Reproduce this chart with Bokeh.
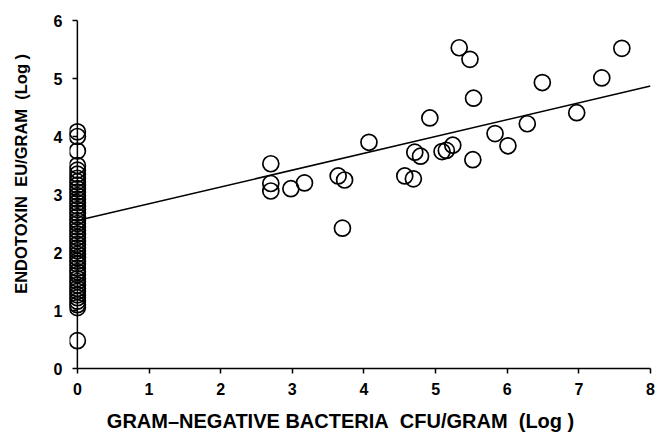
from bokeh.plotting import figure
from bokeh.models import Range1d, FixedTicker, Span
from bokeh.embed import file_html
from bokeh.resources import INLINE

# ---- data ----
zero_x_y = [0.48, 1.05, 1.1, 1.16, 1.22, 1.27, 1.33, 1.38, 1.44, 1.5, 1.55, 1.62,
            1.67, 1.73, 1.8, 1.85, 1.91, 1.97, 2.03, 2.08, 2.14, 2.2, 2.26, 2.32,
            2.38, 2.44, 2.5, 2.55, 2.62, 2.68, 2.74, 2.8, 2.86, 2.92, 2.98, 3.04,
            3.1, 3.16, 3.22, 3.28, 3.35, 3.42, 3.5, 3.75, 4.0, 4.08]

bact_x = [5.33, 5.48, 7.60, 6.49, 7.32, 5.53, 4.92, 6.97, 6.28, 4.07, 5.83, 6.01,
          5.24, 5.09, 5.15, 4.71, 4.79, 5.52, 2.70, 2.70, 2.70, 2.98, 3.17, 3.64,
          3.73, 4.57, 4.69, 3.70]
endo_y = [5.53, 5.33, 5.52, 4.93, 5.01, 4.66, 4.32, 4.41, 4.22, 3.90, 4.05, 3.84,
          3.85, 3.74, 3.76, 3.73, 3.66, 3.60, 3.53, 3.19, 3.06, 3.10, 3.20, 3.32,
          3.25, 3.32, 3.27, 2.42]

fit_intercept = 2.55
fit_slope = 0.29
fit_x = [0, 8]

x_ticks = [0, 1, 2, 3, 4, 5, 6, 7, 8]
y_ticks = [0, 1, 2, 3, 4, 5, 6]

x_title = "GRAM\u2013NEGATIVE BACTERIA\u00a0\u00a0CFU/GRAM\u00a0\u00a0(Log )" + "\u00a0" * 7
y_title = "\u00a0" * 9 + "ENDOTOXIN\u00a0\u00a0EU/GRAM\u00a0\u00a0(Log )"

all_x = [0] * len(zero_x_y) + bact_x
all_y = zero_x_y + endo_y
fit_y = [fit_intercept + fit_slope * x for x in fit_x]

FONT = "Liberation Sans"

p = figure(width=657, height=434, output_backend="svg", toolbar_location=None,
           x_range=Range1d(-0.11, 8.0), y_range=Range1d(0, 6),
           min_border_left=69, min_border_right=7, min_border_top=20,
           min_border_bottom=64)
p.outline_line_color = None
p.grid.visible = False
p.background_fill_color = "white"

# y axis line drawn at x = 0
p.add_layout(Span(location=0, dimension="height", line_color="black",
                  line_width=1.5))

p.line(fit_x, fit_y, line_color="black", line_width=1.5)
p.scatter(all_x, all_y, marker="circle", size=16, fill_color=None,
          line_color="black", line_width=1.7)

for ax in (p.xaxis[0], p.yaxis[0]):
    ax.axis_line_width = 1.5
    ax.axis_line_color = "black"
    ax.major_tick_line_width = 1.5
    ax.major_tick_line_color = "black"
    ax.minor_tick_line_color = None
    ax.major_label_text_font = FONT
    ax.major_label_text_font_size = "16px"
    ax.major_label_text_font_style = "bold"
    ax.major_label_text_color = "black"
    ax.axis_label_text_font = FONT
    ax.axis_label_text_font_style = "bold"
    ax.axis_label_text_color = "black"

p.xaxis.major_tick_out = 5
p.xaxis.major_tick_in = 0
p.xaxis.bounds = (0, 8)
p.xaxis.axis_label_text_font_size = "20px"

# left axis sits at the frame edge; ticks shifted so they end at x = 0
p.yaxis.axis_line_color = None
p.yaxis.major_tick_in = 8
p.yaxis.major_tick_out = -3
p.yaxis.axis_label_text_font_size = "16.5px"

p.xaxis.ticker = FixedTicker(ticks=x_ticks)
p.yaxis.ticker = FixedTicker(ticks=y_ticks)
p.xaxis.major_label_standoff = 9
p.yaxis.major_label_standoff = 7
p.xaxis.axis_label = x_title
p.yaxis.axis_label = y_title
p.xaxis.axis_label_standoff = 12
p.yaxis.axis_label_standoff = 21

open("out.html", "w").write(file_html(p, INLINE))
